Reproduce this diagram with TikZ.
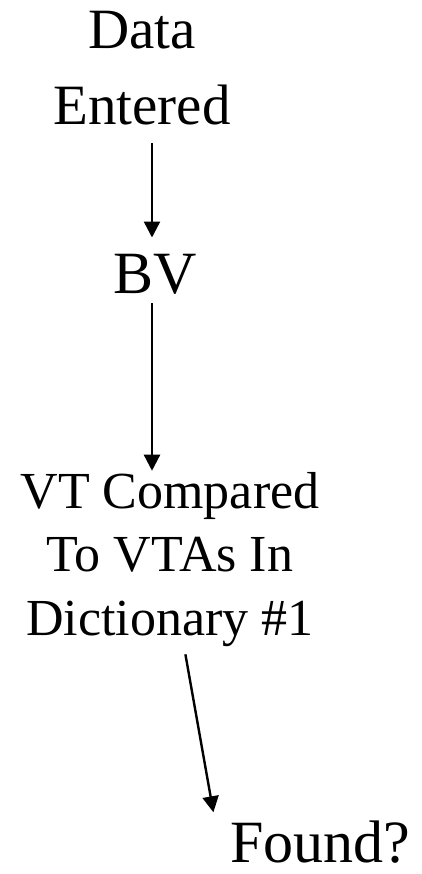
\documentclass[tikz,border=0pt]{standalone}
\usepackage{fontspec}
\setmainfont{Liberation Serif}
\usetikzlibrary{arrows.meta,positioning,calc}

\begin{document}
\begin{tikzpicture}[
    x=1pt, y=1pt,
    label/.style={inner sep=0pt, align=center},
    arrow/.style={-{Triangle[length=16pt,width=16pt]}, line width=2.4pt}
]
    \useasboundingbox (0,0) rectangle (421,-874);

    % Steps (base = last line)
    \node[label, font=\fontsize{57}{76}\selectfont, anchor=base] (data) at (142,-125) {Data\\Entered};
    \node[label, font=\fontsize{60}{72}\selectfont, anchor=base] (bv) at (155,-293) {BV};
    \node[label, font=\fontsize{52}{63.5}\selectfont, anchor=base] (vt) at (170,-635) {VT Compared\\To VTAs In\\Dictionary \#1};
    \node[label, font=\fontsize{60}{72}\selectfont, anchor=base] (found) at (320,-862) {Found?};
    \coordinate (col) at (152,0);

    % Arrows
    \draw[arrow, shorten <=17pt, shorten >=16pt] (data.south -| col) -- (bv.north -| col);
    \draw[arrow, shorten <=9pt, shorten >=1pt] (bv.south -| col) -- (vt.north -| col);
    \draw[arrow, shorten <=8pt, shorten >=8pt] ([xshift=14pt]vt.south) -- ([xshift=-15pt]found.north west);
\end{tikzpicture}
\end{document}
